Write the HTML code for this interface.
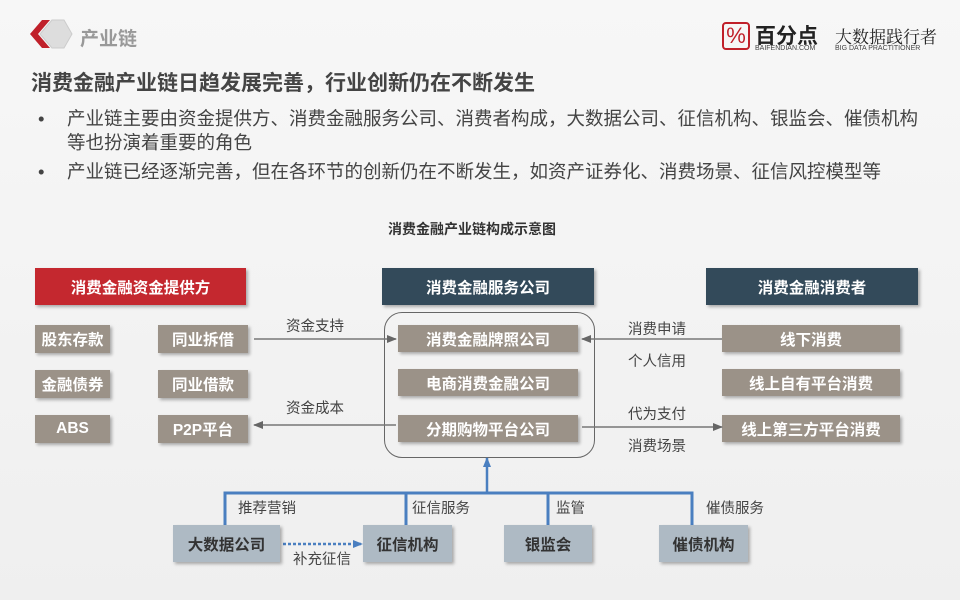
<!DOCTYPE html>
<html><head><meta charset="utf-8"><style>
body{margin:0;width:960px;height:600px;overflow:hidden;background:linear-gradient(180deg,#f7f7f7,#efefef);font-family:"Liberation Sans","Noto Sans CJK SC",sans-serif;position:relative;color:#333}
.a{position:absolute}
.b{position:absolute;display:flex;align-items:center;justify-content:center;font-weight:bold;box-shadow:2px 2px 3px rgba(0,0,0,.3)}
.g{background:#9b9288;color:#fff;font-size:15.5px}
.s{background:#aebac4;color:#333;font-size:15.5px}
.h{color:#fff;font-size:15.5px}
.l{position:absolute;font-size:14.5px;color:#444}
.bl{position:absolute;left:38px;font-size:18.5px;color:#444;line-height:24px}
.bl span{position:absolute;left:29px;top:0;white-space:nowrap}
</style></head><body>
<svg class="a" style="left:28px;top:18px" width="46" height="32"><polygon points="14,2 2,16 14,30 22,30 10,16 22,2" fill="#c0202a"/><polygon points="24,2 12,16 24,30 36,30 44,16 36,2" fill="#ddd" stroke="#ccc"/></svg>
<div class="a" style="left:80px;top:24px;font-size:19px;font-weight:bold;color:#999">产业链</div>
<div class="a" style="left:722px;top:22px;width:28px;height:28px;border:2px solid #c0202a;border-radius:4px;box-sizing:border-box;color:#c0202a;font-size:22px;text-align:center;line-height:24px">%</div>
<div class="a" style="left:755px;top:20px;font-size:21px;font-weight:bold;color:#222">百分点</div>
<div class="a" style="left:755px;top:45px;font-size:7px;color:#444">BAIFENDIAN.COM</div>
<div class="a" style="left:835px;top:23px;font-size:17px;color:#222;font-family:'Noto Serif CJK SC',serif">大数据践行者</div>
<div class="a" style="left:835px;top:45px;font-size:7px;color:#444">BIG DATA PRACTITIONER</div>
<div class="a" style="left:31px;top:67px;font-size:21px;font-weight:bold;color:#444;white-space:nowrap">消费金融产业链日趋发展完善，行业创新仍在不断发生</div>
<div class="bl" style="top:107px">•<span>产业链主要由资金提供方、消费金融服务公司、消费者构成，大数据公司、征信机构、银监会、催债机构<br>等也扮演着重要的角色</span></div>
<div class="bl" style="top:160px">•<span>产业链已经逐渐完善，但在各环节的创新仍在不断发生，如资产证券化、消费场景、征信风控模型等</span></div>
<div class="a" style="left:388px;top:219px;font-size:14px;font-weight:bold;color:#333">消费金融产业链构成示意图</div>
<div class="b h" style="left:35px;top:268px;width:211px;height:37px;background:#c4282f">消费金融资金提供方</div>
<div class="b h" style="left:382px;top:268px;width:212px;height:37px;background:#334a5a">消费金融服务公司</div>
<div class="b h" style="left:706px;top:268px;width:212px;height:37px;background:#334a5a">消费金融消费者</div>
<div class="a" style="left:384px;top:312px;width:209px;height:144px;border:1px solid #666;border-radius:18px"></div>
<div class="b g" style="left:35px;top:325px;width:75px;height:28px">股东存款</div>
<div class="b g" style="left:158px;top:325px;width:90px;height:28px">同业拆借</div>
<div class="b g" style="left:35px;top:370px;width:75px;height:28px">金融债券</div>
<div class="b g" style="left:158px;top:370px;width:90px;height:28px">同业借款</div>
<div class="b g" style="left:35px;top:415px;width:75px;height:28px">ABS</div>
<div class="b g" style="left:158px;top:415px;width:90px;height:28px">P2P平台</div>
<div class="b g" style="left:398px;top:325px;width:180px;height:27px">消费金融牌照公司</div>
<div class="b g" style="left:398px;top:369px;width:180px;height:27px">电商消费金融公司</div>
<div class="b g" style="left:398px;top:415px;width:180px;height:27px">分期购物平台公司</div>
<div class="b g" style="left:722px;top:325px;width:178px;height:27px">线下消费</div>
<div class="b g" style="left:722px;top:369px;width:178px;height:27px">线上自有平台消费</div>
<div class="b g" style="left:722px;top:415px;width:178px;height:27px">线上第三方平台消费</div>
<svg class="a" style="left:0;top:0" width="960" height="600">
<defs><marker id="m" markerUnits="userSpaceOnUse" markerWidth="10" markerHeight="10" refX="9" refY="5" orient="auto"><path d="M0,1L10,5L0,9z" fill="#666"/></marker>
<marker id="mb" markerUnits="userSpaceOnUse" markerWidth="10" markerHeight="10" refX="9" refY="5" orient="auto"><path d="M0,1L10,5L0,9z" fill="#4a7fc0"/></marker></defs>
<g stroke="#777" stroke-width="1.5" fill="none">
<line x1="254" y1="339" x2="396" y2="339" marker-end="url(#m)"/>
<line x1="396" y1="425" x2="254" y2="425" marker-end="url(#m)"/>
<line x1="722" y1="339" x2="582" y2="339" marker-end="url(#m)"/>
<line x1="582" y1="427" x2="722" y2="427" marker-end="url(#m)"/>
</g>
<g stroke="#4a7fc0" stroke-width="3" fill="none">
<line x1="487" y1="493" x2="487" y2="458" marker-end="url(#mb)" stroke-width="2.5"/>
<polyline points="225,525 225,493 692,493 692,525"/>
<line x1="406" y1="493" x2="406" y2="525"/>
<line x1="548" y1="493" x2="548" y2="525"/>
<line x1="283" y1="544" x2="362" y2="544" stroke-width="2.5" stroke-dasharray="3,2" marker-end="url(#mb)"/>
</g></svg>
<div class="b s" style="left:173px;top:525px;width:107px;height:37px">大数据公司</div>
<div class="b s" style="left:363px;top:525px;width:89px;height:37px">征信机构</div>
<div class="b s" style="left:504px;top:525px;width:88px;height:37px">银监会</div>
<div class="b s" style="left:659px;top:525px;width:89px;height:37px">催债机构</div>
<div class="l" style="left:286px;top:315px">资金支持</div>
<div class="l" style="left:286px;top:397px">资金成本</div>
<div class="l" style="left:628px;top:318px">消费申请</div>
<div class="l" style="left:628px;top:350px">个人信用</div>
<div class="l" style="left:628px;top:403px">代为支付</div>
<div class="l" style="left:628px;top:435px">消费场景</div>
<div class="l" style="left:238px;top:497px">推荐营销</div>
<div class="l" style="left:412px;top:497px">征信服务</div>
<div class="l" style="left:556px;top:497px">监管</div>
<div class="l" style="left:706px;top:497px">催债服务</div>
<div class="l" style="left:293px;top:548px">补充征信</div>
</body></html>
